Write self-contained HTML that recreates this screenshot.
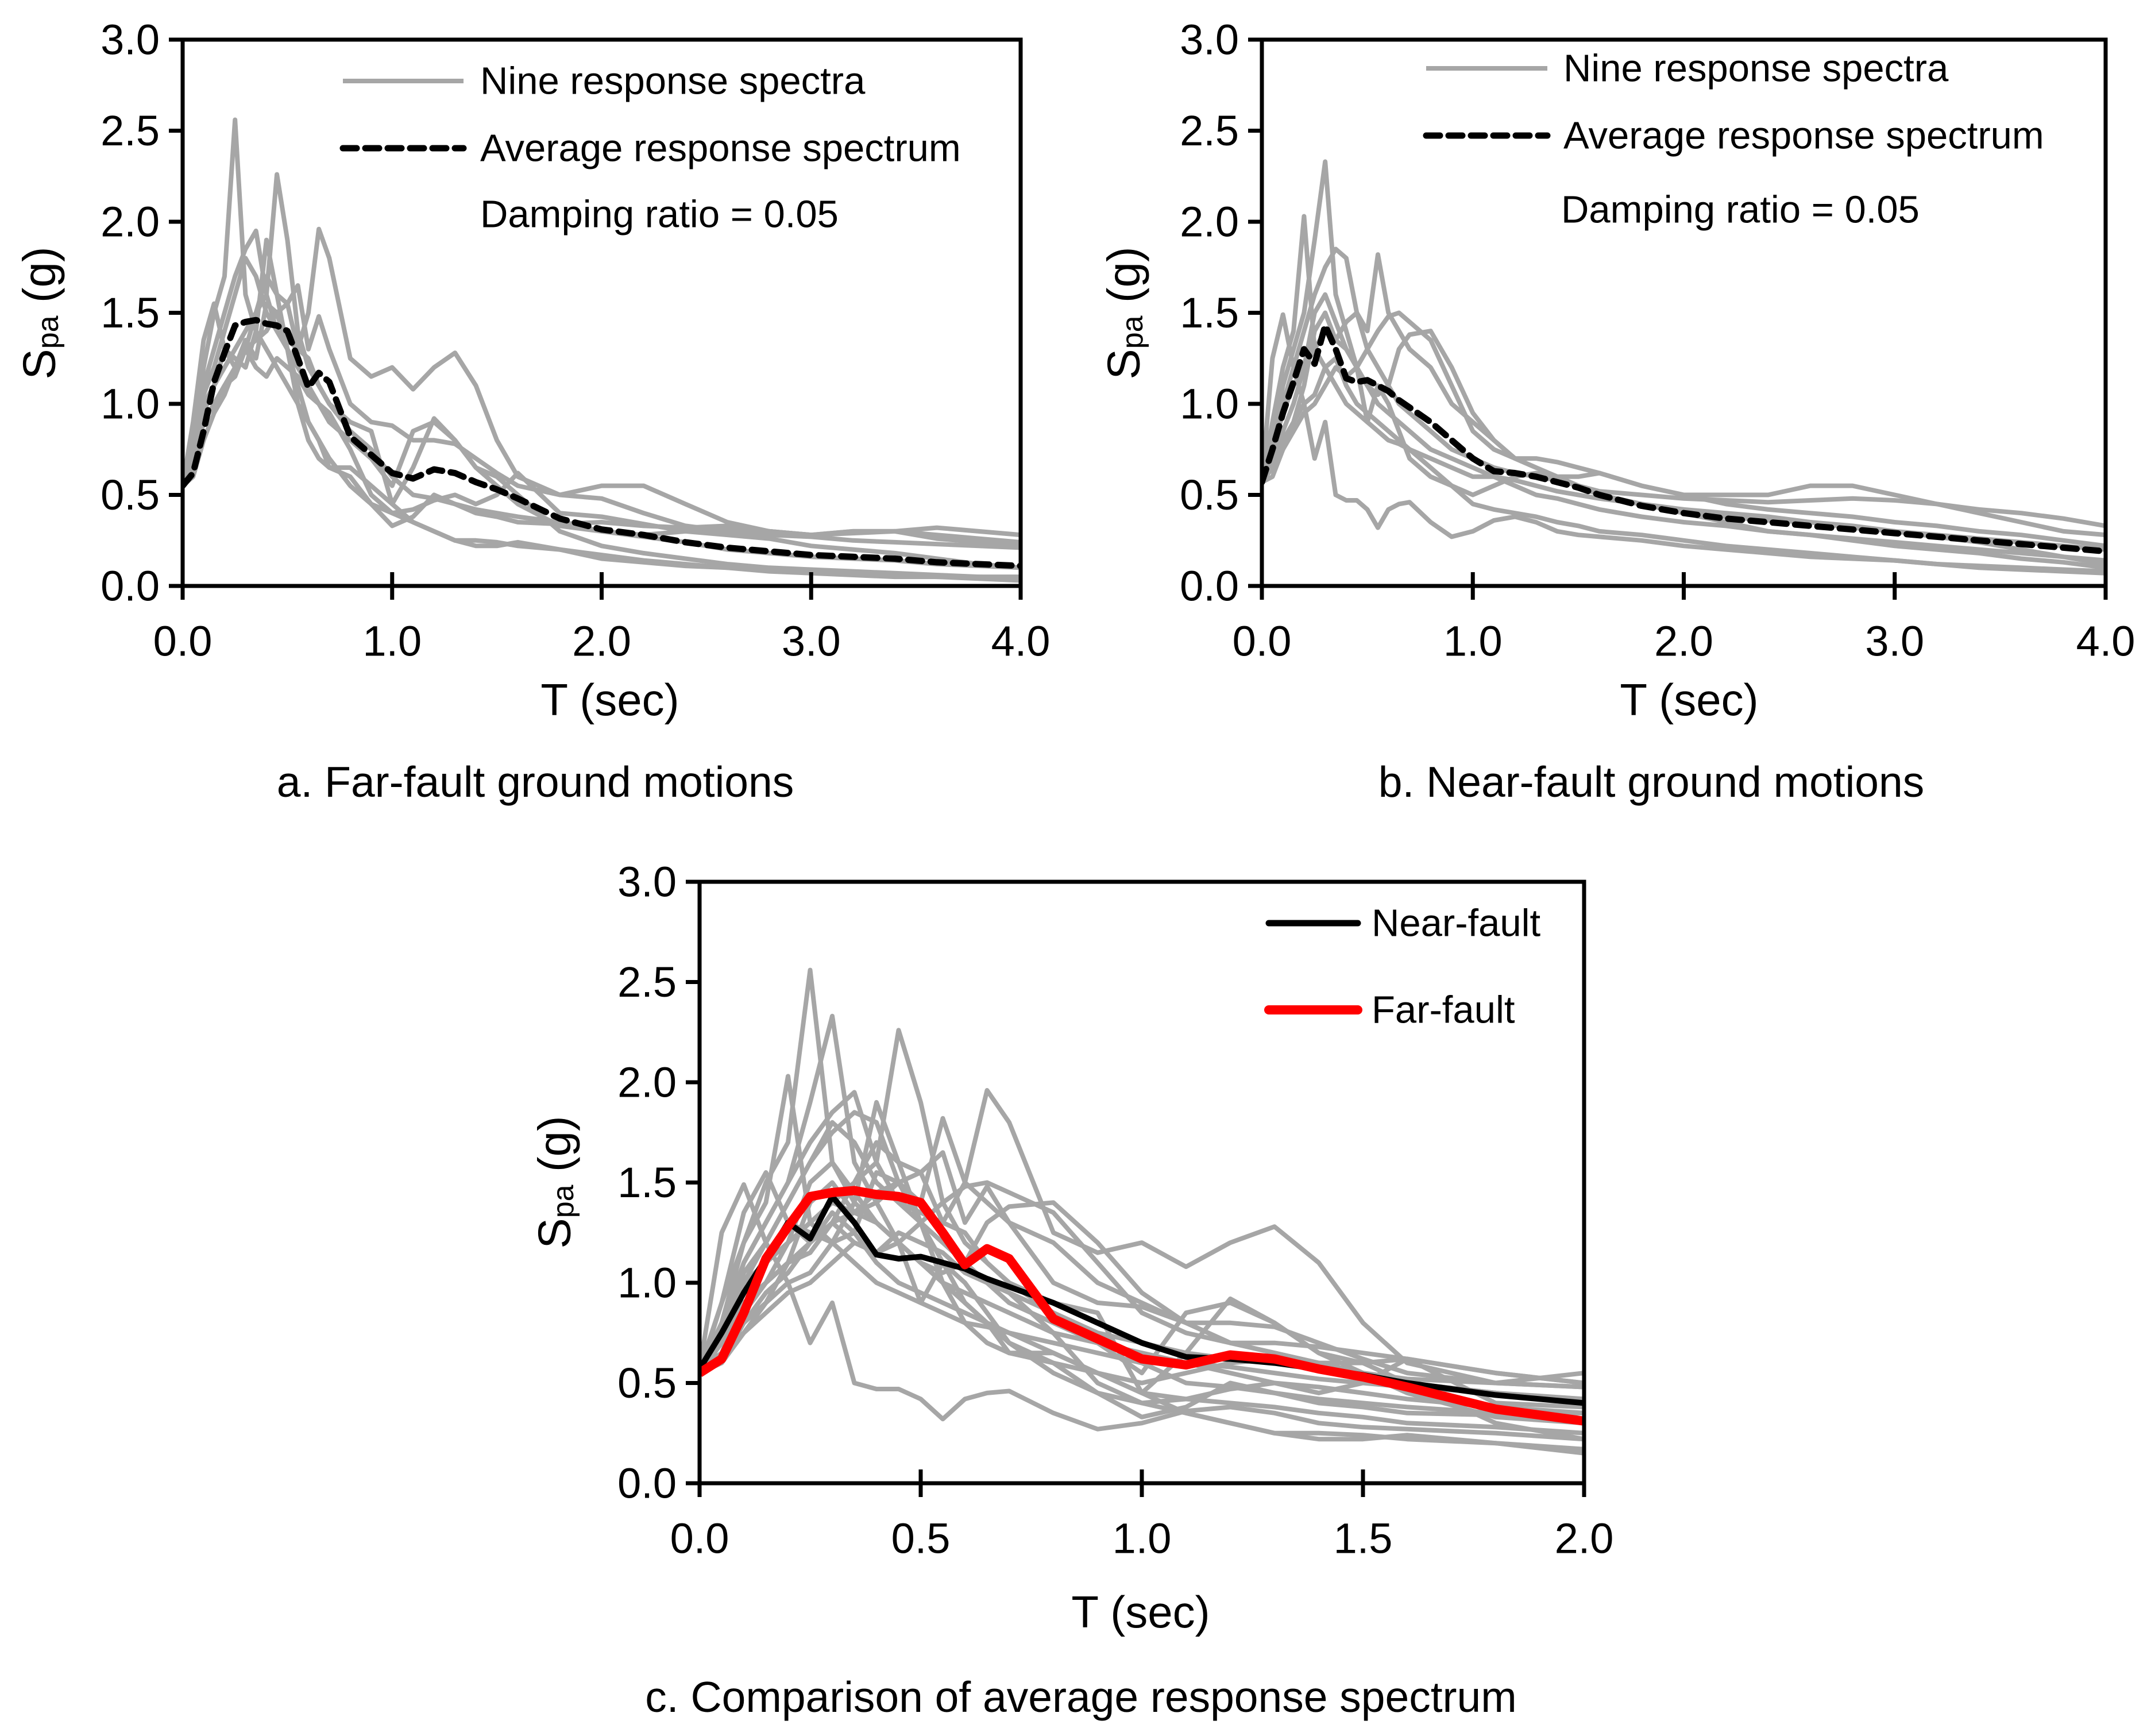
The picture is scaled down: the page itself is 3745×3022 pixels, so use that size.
<!DOCTYPE html>
<html><head><meta charset="utf-8"><style>
html,body{margin:0;padding:0;background:#fff;}
svg{display:block;font-family:"Liberation Sans",Arial,sans-serif;}
</style></head><body>
<svg id="fig" width="3745" height="3022" viewBox="0 0 3745 3022" xmlns="http://www.w3.org/2000/svg"></svg>
<script>
const periods=[0,0.05,0.1,0.15,0.2,0.25,0.3,0.35,0.4,0.45,0.5,0.55,0.6,0.65,0.7,0.8,0.9,1.0,1.1,1.2,1.3,1.4,1.5,1.6,1.8,2.0,2.2,2.4,2.6,2.8,3.0,3.2,3.4,3.6,3.8,4.0];
const farSpectra=[
[0.55,0.8,1.2,1.5,1.7,2.56,1.6,1.4,1.3,1.2,1.1,1.0,0.9,0.8,0.7,0.55,0.45,0.4,0.35,0.3,0.25,0.25,0.24,0.22,0.2,0.17,0.14,0.12,0.1,0.09,0.08,0.07,0.06,0.05,0.05,0.04],
[0.55,0.7,0.95,1.1,1.2,1.3,1.4,1.5,1.6,2.26,1.9,1.4,1.2,1.1,1.0,0.85,0.75,0.6,0.5,0.48,0.45,0.42,0.4,0.38,0.35,0.3,0.28,0.3,0.32,0.3,0.28,0.3,0.3,0.32,0.3,0.28],
[0.55,0.65,0.9,1.0,1.1,1.2,1.3,1.35,1.4,1.5,1.55,1.3,1.5,1.96,1.8,1.25,1.15,1.2,1.08,1.2,1.28,1.1,0.8,0.6,0.5,0.48,0.4,0.33,0.3,0.28,0.27,0.25,0.24,0.23,0.22,0.21],
[0.55,0.75,1.1,1.3,1.5,1.7,1.85,1.95,1.6,1.4,1.3,1.2,1.1,1.0,0.9,0.8,0.7,0.55,0.85,0.9,0.8,0.65,0.55,0.45,0.33,0.3,0.27,0.24,0.2,0.18,0.16,0.15,0.14,0.12,0.11,0.1],
[0.55,0.9,1.35,1.55,1.3,1.25,1.2,1.4,1.9,1.6,1.3,1.0,0.8,0.7,0.65,0.6,0.45,0.33,0.38,0.5,0.45,0.4,0.38,0.35,0.34,0.35,0.33,0.32,0.33,0.3,0.28,0.3,0.3,0.26,0.24,0.23],
[0.55,0.7,1.0,1.1,1.3,1.2,1.35,1.25,1.55,1.5,1.3,1.1,0.9,0.8,0.65,0.65,0.55,0.45,0.35,0.3,0.25,0.22,0.22,0.24,0.2,0.15,0.13,0.11,0.1,0.08,0.07,0.06,0.05,0.05,0.04,0.03],
[0.55,0.65,0.9,1.0,1.1,1.15,1.3,1.5,1.7,1.6,1.55,1.65,1.3,1.48,1.3,1.0,0.9,0.88,0.8,0.8,0.78,0.7,0.62,0.55,0.5,0.55,0.55,0.45,0.35,0.3,0.28,0.29,0.3,0.28,0.26,0.24],
[0.55,0.72,1.05,1.2,1.4,1.6,1.8,1.7,1.5,1.4,1.35,1.3,1.25,1.1,1.0,0.9,0.85,0.45,0.65,0.92,0.8,0.65,0.6,0.5,0.3,0.22,0.18,0.15,0.12,0.1,0.09,0.08,0.07,0.06,0.05,0.05],
[0.55,0.6,0.8,0.95,1.05,1.2,1.3,1.2,1.15,1.25,1.2,1.15,1.05,1.0,0.95,0.75,0.5,0.4,0.42,0.47,0.5,0.45,0.5,0.62,0.4,0.38,0.34,0.3,0.28,0.26,0.22,0.2,0.18,0.15,0.12,0.1]];
const nearSpectra=[
[0.57,0.8,1.1,1.3,1.5,1.9,2.33,1.6,1.4,1.2,1.1,1.0,0.95,0.9,0.85,0.75,0.7,0.65,0.6,0.55,0.5,0.48,0.45,0.42,0.38,0.35,0.33,0.3,0.28,0.26,0.24,0.22,0.2,0.18,0.16,0.14],
[0.57,0.9,1.2,1.4,2.03,1.3,1.2,1.1,1.0,0.95,0.9,0.85,0.8,0.78,0.75,0.7,0.65,0.6,0.6,0.58,0.55,0.52,0.5,0.48,0.45,0.42,0.4,0.38,0.35,0.32,0.3,0.28,0.26,0.24,0.22,0.2],
[0.57,1.25,1.49,1.2,1.0,0.7,0.9,0.5,0.47,0.47,0.42,0.32,0.42,0.45,0.46,0.35,0.27,0.3,0.36,0.38,0.35,0.3,0.28,0.27,0.25,0.22,0.2,0.18,0.16,0.15,0.14,0.12,0.11,0.1,0.09,0.08],
[0.57,0.7,1.0,1.2,1.4,1.6,1.75,1.85,1.8,1.5,1.3,1.2,1.1,1.0,0.95,0.85,0.75,0.7,0.65,0.62,0.6,0.58,0.55,0.52,0.5,0.48,0.47,0.46,0.47,0.48,0.47,0.45,0.42,0.4,0.37,0.33],
[0.57,0.75,0.95,1.1,1.2,1.3,1.4,1.35,1.45,1.5,1.4,1.82,1.5,1.4,1.3,1.2,1.0,0.9,0.8,0.7,0.65,0.6,0.6,0.62,0.55,0.5,0.5,0.5,0.55,0.55,0.5,0.45,0.4,0.35,0.3,0.28],
[0.57,0.6,0.75,0.85,0.95,1.0,1.1,1.2,1.15,1.2,1.3,1.4,1.48,1.5,1.45,1.35,1.1,0.85,0.75,0.7,0.7,0.68,0.65,0.62,0.55,0.5,0.45,0.42,0.4,0.38,0.35,0.33,0.3,0.28,0.25,0.22],
[0.57,0.65,0.8,0.9,1.1,1.4,1.5,1.35,1.3,1.2,1.1,1.05,1.1,1.3,1.38,1.4,1.2,0.95,0.8,0.7,0.65,0.6,0.55,0.5,0.45,0.4,0.35,0.3,0.28,0.25,0.22,0.2,0.18,0.15,0.13,0.1],
[0.57,0.7,0.85,1.0,1.2,1.5,1.6,1.45,1.3,1.2,0.9,1.1,1.0,0.85,0.7,0.6,0.55,0.5,0.55,0.6,0.62,0.6,0.55,0.5,0.45,0.4,0.38,0.36,0.35,0.33,0.3,0.27,0.24,0.2,0.16,0.12],
[0.57,0.65,0.75,0.9,1.0,1.05,1.2,1.25,1.1,1.0,0.95,0.9,0.85,0.8,0.75,0.65,0.55,0.45,0.42,0.4,0.38,0.35,0.33,0.3,0.28,0.25,0.22,0.2,0.18,0.16,0.14,0.12,0.1,0.09,0.08,0.07]];
const farAverage=[0.55,0.62,0.85,1.12,1.28,1.43,1.45,1.46,1.44,1.43,1.40,1.25,1.09,1.17,1.12,0.82,0.72,0.62,0.59,0.64,0.62,0.57,0.53,0.48,0.37,0.31,0.28,0.24,0.21,0.19,0.17,0.16,0.15,0.13,0.12,0.11];
const nearAverage=[0.57,0.75,0.95,1.12,1.3,1.22,1.43,1.3,1.14,1.12,1.13,1.1,1.07,1.02,0.98,0.9,0.8,0.7,0.63,0.62,0.6,0.57,0.54,0.5,0.44,0.4,0.37,0.35,0.33,0.31,0.29,0.27,0.25,0.23,0.21,0.19];
const yTicks=[0,0.5,1.0,1.5,2.0,2.5,3.0];
const xTicksWide=[0,1,2,3,4];
const xTicksNarrow=[0,0.5,1.0,1.5,2.0];

const NS="http://www.w3.org/2000/svg";
const svg=document.getElementById('fig');
function mk(tag,attrs,parent){const e=document.createElementNS(NS,tag);for(const k in attrs)e.setAttribute(k,attrs[k]);(parent||svg).appendChild(e);return e;}
function txt(s,x,y,size,anchor,parent){const t=mk('text',{x:x,y:y,'font-size':size,'text-anchor':anchor||'middle','dominant-baseline':'central',fill:'#000'},parent);t.textContent=s;return t;}

function panel(id,L,R,T,B,xmax,xTicks,sets,avgs,legend){
  const g=mk('g',{});
  
  
  const sx=v=>L+(v/xmax)*(R-L);
  const sy=v=>B-(v/3)*(B-T);
  const cp=mk('clipPath',{id:id+'-clip'},g);
  mk('rect',{x:L,y:T,width:R-L,height:B-T},cp);
  const lines=mk('g',{'clip-path':'url(#'+id+'-clip)'},g);
  
  
  function path(vals,style,name){
    let d='';
    for(let i=0;i<periods.length;i++){if(periods[i]>xmax+1e-9)break;d+=(i?'L':'M')+sx(periods[i]).toFixed(1)+','+sy(vals[i]).toFixed(1);}
    const p=mk('path',Object.assign({d:d,fill:'none','stroke-linejoin':'round'},style),lines);
    
    
  }
  sets.forEach((s,si)=>s.forEach((v,i)=>path(v,{stroke:'#a6a6a6','stroke-width':8},'gray-spectrum-'+si+'-'+i)));
  avgs.forEach(a=>path(a.vals,a.style,a.name));
  const fr=mk('rect',{x:L,y:T,width:R-L,height:B-T,fill:'none',stroke:'#000','stroke-width':7},g);
  
  
  yTicks.forEach(v=>{
    mk('line',{x1:L-24,x2:L,y1:sy(v),y2:sy(v),stroke:'#000','stroke-width':7},g);
    const t=txt(v.toFixed(1),L-40,sy(v),74,'end',g);
    
    
  });
  xTicks.forEach(v=>{
    mk('line',{x1:sx(v),x2:sx(v),y1:B-24,y2:B+24,stroke:'#000','stroke-width':7},g);
    const t=txt(v.toFixed(1),sx(v),B+96,74,'middle',g);
    
    
  });
  legend(g);
  return g;
}
function legLine(g,x1,x2,y,style,label,tx,name){
  const l=mk('line',Object.assign({x1:x1,x2:x2,y1:y,y2:y},style),g);
  
  
  const t=txt(label,tx,y,67,'start',g);
  
  
}
const dashStyle={stroke:'#000','stroke-width':11,'stroke-dasharray':'24 15','stroke-linecap':'round'};

panel('panel-far-fault',318,1777,69,1020,4,xTicksWide,[farSpectra],[{vals:farAverage,style:dashStyle,name:'far-average-line'}],g=>{
  legLine(g,597,807,141,{stroke:'#a6a6a6','stroke-width':8},'Nine response spectra',836,'legend-nine');
  legLine(g,597,807,258,dashStyle,'Average response spectrum',836,'legend-average');
  const t=txt('Damping ratio = 0.05',836,373,67,'start',g);
  
  
});
panel('panel-near-fault',2197,3666,69,1020,4,xTicksWide,[nearSpectra],[{vals:nearAverage,style:dashStyle,name:'near-average-line'}],g=>{
  legLine(g,2483,2694,119,{stroke:'#a6a6a6','stroke-width':8},'Nine response spectra',2722,'legend-nine');
  legLine(g,2483,2694,236,dashStyle,'Average response spectrum',2722,'legend-average');
  const t=txt('Damping ratio = 0.05',2718,365,67,'start',g);
  
  
});
panel('panel-comparison',1218,2758,1535,2582,2,xTicksNarrow,[farSpectra,nearSpectra],[
  {vals:nearAverage,style:{stroke:'#000','stroke-width':10},name:'near-fault-average'},
  {vals:farAverage,style:{stroke:'#ff0000','stroke-width':16},name:'far-fault-average'}],g=>{
  legLine(g,2209,2364,1607,{stroke:'#000','stroke-width':11,'stroke-linecap':'round'},'Near-fault',2388,'legend-near');
  legLine(g,2209,2364,1758,{stroke:'#ff0000','stroke-width':16,'stroke-linecap':'round'},'Far-fault',2388,'legend-far');
});

function ytitle(x,y,name){
  const t=mk('text',{transform:'translate('+x+','+y+') rotate(-90)','font-size':80,'text-anchor':'middle','dominant-baseline':'central'});
  
  
  t.innerHTML='S<tspan font-size="52" dy="16">pa</tspan><tspan dy="-16"> (g)</tspan>';
}
ytitle(68,545,'y-axis-title-a');
ytitle(1956,545,'y-axis-title-b');
ytitle(965,2058,'y-axis-title-c');
[[1062,1218,'x-axis-title-a'],[2941,1218,'x-axis-title-b'],[1986,2806,'x-axis-title-c']].forEach(a=>{
  const t=txt('T (sec)',a[0],a[1],78,'middle');
  
  
});
[['a. Far-fault ground motions',932,1361,'caption-a'],['b. Near-fault ground motions',2875,1361,'caption-b'],['c. Comparison of average response spectrum',1882,2954,'caption-c']].forEach(a=>{
  const t=txt(a[0],a[1],a[2],75,'middle');
  
  
});
</script>
</body></html>
